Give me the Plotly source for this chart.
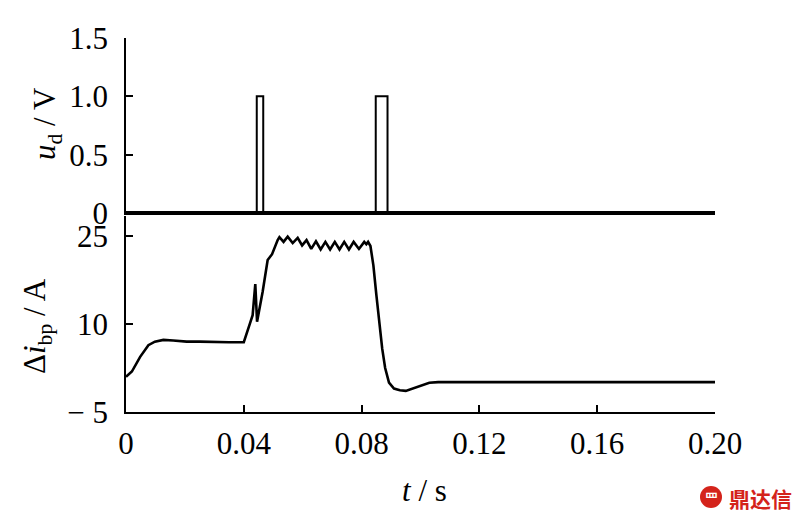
import plotly.graph_objects as go

# top panel: fault detection signal u_d (V)
t_ud = [0, 0.0444, 0.0444, 0.0466, 0.0466, 0.0848, 0.0848, 0.0888, 0.0888, 0.20]
u_d = [0, 0, 1.0, 1.0, 0, 0, 1.0, 1.0, 0, 0]

# bottom panel: current difference delta i_bp (A)
t_ibp = [0.0000, 0.0020, 0.0048, 0.0076, 0.0098, 0.0127, 0.0160, 0.0206, 0.0250,
         0.0300, 0.0350, 0.0400, 0.0407, 0.0421, 0.0430, 0.0439, 0.0445, 0.0464,
         0.0481, 0.0496, 0.0515, 0.0521, 0.0535, 0.0549, 0.0566, 0.0583, 0.0598,
         0.0613, 0.0629, 0.0645, 0.0661, 0.0677, 0.0693, 0.0709, 0.0725, 0.0741,
         0.0757, 0.0773, 0.0791, 0.0809, 0.0816, 0.0822, 0.0830, 0.0840, 0.0850,
         0.0860, 0.0870, 0.0880, 0.0893, 0.0910, 0.0930, 0.0950, 0.0975, 0.1000,
         0.1030, 0.1060, 0.1500, 0.2000]
i_bp = [1.0, 1.9, 4.4, 6.4, 7.0, 7.3, 7.2, 7.0, 7.0,
        6.9, 6.9, 6.9, 8.1, 10.1, 11.5, 16.8, 10.4, 15.5,
        20.9, 21.9, 24.3, 24.8, 24.0, 24.9, 23.8, 24.7, 23.4,
        24.3, 22.8, 24.1, 22.7, 24.0, 22.7, 24.0, 22.7, 24.0,
        22.7, 24.0, 22.8, 24.0, 23.6, 24.0, 23.3, 20.0, 15.0,
        10.0, 5.8, 2.5, 0.0, -1.0, -1.3, -1.4, -1.0, -0.6,
        0.0, 0.1, 0.1, 0.1]

x_ticks = [0, 0.04, 0.08, 0.12, 0.16, 0.20]
x_ticktext = ['0', '0.04', '0.08', '0.12', '0.16', '0.20']
ud_ticks = [0, 0.5, 1.0, 1.5]
ud_ticktext = ['0', '0.5', '1.0', '1.5']
ibp_ticks = [-5, 10, 25]
ibp_ticktext = ['\u2212 5', '10', '25']

SERIF = 'Liberation Serif, Times New Roman, serif'
FS = 31
tick_font = dict(family=SERIF, size=FS, color='black')
title_font = dict(family=SERIF, size=FS, color='black')

fig = go.Figure()
fig.add_trace(go.Scatter(x=t_ibp, y=i_bp, mode='lines', xaxis='x', yaxis='y',
                         line=dict(color='black', width=2.6), showlegend=False))
fig.add_trace(go.Scatter(x=t_ud, y=u_d, mode='lines', xaxis='x2', yaxis='y2',
                         line=dict(color='black', width=2), showlegend=False))

axis_common = dict(showgrid=False, showline=True, linecolor='black', linewidth=1.5,
                   ticks='inside', ticklen=7, tickwidth=1.5, tickcolor='black',
                   tickfont=tick_font)

fig.update_layout(
    width=797, height=523,
    margin=dict(l=126, r=82, t=38, b=111),
    plot_bgcolor='white', paper_bgcolor='white',
    xaxis=dict(domain=[0, 1], range=[0, 0.2], anchor='y', tickvals=x_ticks,
               ticktext=x_ticktext, zeroline=False, ticklabelstandoff=3, **axis_common),
    yaxis=dict(domain=[0, 0.524], range=[-5, 28.41], anchor='x', tickvals=ibp_ticks,
               ticktext=ibp_ticktext, zeroline=False, ticklabelstandoff=10, **axis_common),
    xaxis2=dict(domain=[0, 1], range=[0, 0.2], anchor='y2', showline=False,
                showticklabels=False, ticks='', showgrid=False, zeroline=False),
    yaxis2=dict(domain=[0.5267, 1], range=[-0.017, 1.5], anchor='x2', tickvals=ud_ticks,
                ticktext=ud_ticktext, zeroline=True, zerolinecolor='black',
                zerolinewidth=4, ticklabelstandoff=10, **axis_common),
    annotations=[
        dict(text='<i>u</i><sub>d</sub> / V', x=(47 - 126) / 589, y=(412 - 124) / 374,
             xref='paper', yref='paper', xanchor='center', yanchor='middle',
             textangle=-90, showarrow=False, font=title_font),
        dict(text='\u0394<i>i</i><sub>bp</sub> / A', x=(37 - 126) / 589, y=(412 - 326) / 374,
             xref='paper', yref='paper', xanchor='center', yanchor='middle',
             textangle=-90, showarrow=False, font=title_font),
        dict(text='<i>t</i> / s', x=(424 - 126) / 589, y=(412 - 490) / 374,
             xref='paper', yref='paper', xanchor='center', yanchor='middle',
             showarrow=False, font=title_font),
        dict(text='<b>鼎达信</b>', x=(760 - 126) / 589, y=(412 - 498) / 374,
             xref='paper', yref='paper', xanchor='center', yanchor='middle',
             showarrow=False, font=dict(family='Noto Sans CJK SC', size=21, color='#d4231b')),
        dict(text='<b>罒</b>', x=(711 - 126) / 589, y=(412 - 497) / 374,
             xref='paper', yref='paper', xanchor='center', yanchor='middle',
             showarrow=False, font=dict(family='Noto Sans CJK SC', size=13, color='white')),
    ],
    shapes=[
        dict(type='circle', xref='paper', yref='paper', layer='below',
             x0=(700 - 126) / 589, x1=(722 - 126) / 589,
             y0=(412 - 508) / 374, y1=(412 - 486) / 374,
             fillcolor='#d4231b', line=dict(width=0)),
    ],
)

fig.write_html("out.html", config={'displayModeBar': False},
               post_script="document.body.style.margin='0px';")
